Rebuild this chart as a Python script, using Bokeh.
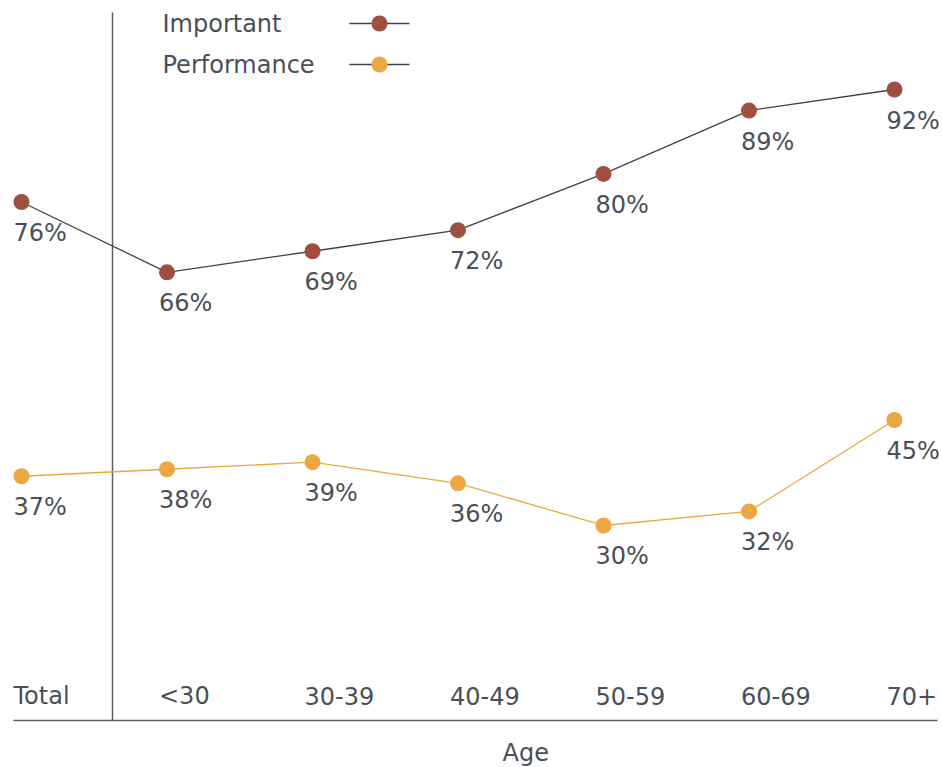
from bokeh.plotting import figure
from bokeh.models import Range1d, ColumnDataSource
from bokeh.core.properties import value
from bokeh.embed import file_html
from bokeh.resources import INLINE

# ---- data ----
categories = ["Total", "<30", "30-39", "40-49", "50-59", "60-69", "70+"]
important = [76, 66, 69, 72, 80, 89, 92]
performance = [37, 38, 39, 36, 30, 32, 45]
series_names = ["Important", "Performance"]
x_title = "Age"

# ---- style ----
FONT = "DejaVu Sans"
FS = "24px"
TXT = "#4a4f55"
BROWN = "#9e4f3f"
ORANGE = "#eba842"
DARK = "#3f4247"
AXIS = "#5a5f64"

W, H = 942, 767
STEP = 145.5          # px between categories
X0 = 21               # px of first category
PX_PER_UNIT = 7.032   # px per percentage point
REF_V, REF_PY = 92, 89
x_start, x_end = -X0 / STEP, (W - X0) / STEP
y_start = REF_V - (H - REF_PY) / PX_PER_UNIT
y_end = REF_V + REF_PY / PX_PER_UNIT

p = figure(width=W, height=H, output_backend="svg", toolbar_location=None,
           x_range=Range1d(x_start, x_end), y_range=Range1d(y_start, y_end),
           min_border=0, x_axis_type=None, y_axis_type=None)
p.grid.visible = False
p.outline_line_color = None
p.background_fill_color = "white"
p.border_fill_color = "white"

def px_x(cx):
    return x_start + cx / W * (x_end - x_start)

def px_y(cy):
    return y_end - cy / H * (y_end - y_start)

axis_y = px_y(720)

# baseline (x axis line)
p.segment([px_x(13)], [axis_y], [px_x(937)], [axis_y], line_color=AXIS, line_width=1.5)
# vertical separator between Total and age groups
sep_x = px_x(112)
p.segment([sep_x], [px_y(12)], [sep_x], [axis_y], line_color=AXIS, line_width=1.5)

xs = list(range(len(categories)))
src = ColumnDataSource(dict(x=xs, cat=categories, imp=important, perf=performance,
                            imp_lbl=[f"{v}%" for v in important],
                            perf_lbl=[f"{v}%" for v in performance]))

p.line("x", "imp", source=src, line_color=DARK, line_width=1.3)
p.line("x", "perf", source=src, line_color=ORANGE, line_width=1.3)
p.scatter("x", "imp", source=src, size=16, fill_color=BROWN, line_color=None)
p.scatter("x", "perf", source=src, size=16, fill_color=ORANGE, line_color=None)

for col in ("imp", "perf"):
    p.text("x", col, text=col + "_lbl", source=src, x_offset=-8, y_offset=31,
           text_align="left", text_baseline="middle", text_font=value(FONT),
           text_font_size=FS, text_color=TXT)

# category labels just above axis line
src_cat = ColumnDataSource(dict(x=xs, y=[axis_y] * len(xs), cat=categories))
p.text("x", "y", text="cat", source=src_cat, x_offset=-8, y_offset=-25,
       text_align="left", text_baseline="middle", text_font=value(FONT),
       text_font_size=FS, text_color=TXT)

# axis title centred on the age groups
age_center = (xs[1] + xs[-1]) / 2
p.text([age_center], [axis_y], text=[x_title], x_offset=-5, y_offset=32,
       text_align="center", text_baseline="middle", text_font=value(FONT),
       text_font_size=FS, text_color=TXT)

# ---- manual legend (label left, line+marker right) ----
leg_rows = [(23, BROWN), (64, ORANGE)]
for name, (cy, col) in zip(series_names, leg_rows):
    p.text([px_x(162)], [px_y(cy)], text=[name], text_align="left",
           text_baseline="middle", text_font=value(FONT), text_font_size=FS,
           text_color=TXT)
    p.line([px_x(349), px_x(409)], [px_y(cy), px_y(cy)], line_color=DARK, line_width=1.3)
    p.scatter([px_x(379)], [px_y(cy)], size=16, fill_color=col, line_color=None)

open("out.html", "w").write(file_html(p, INLINE))
